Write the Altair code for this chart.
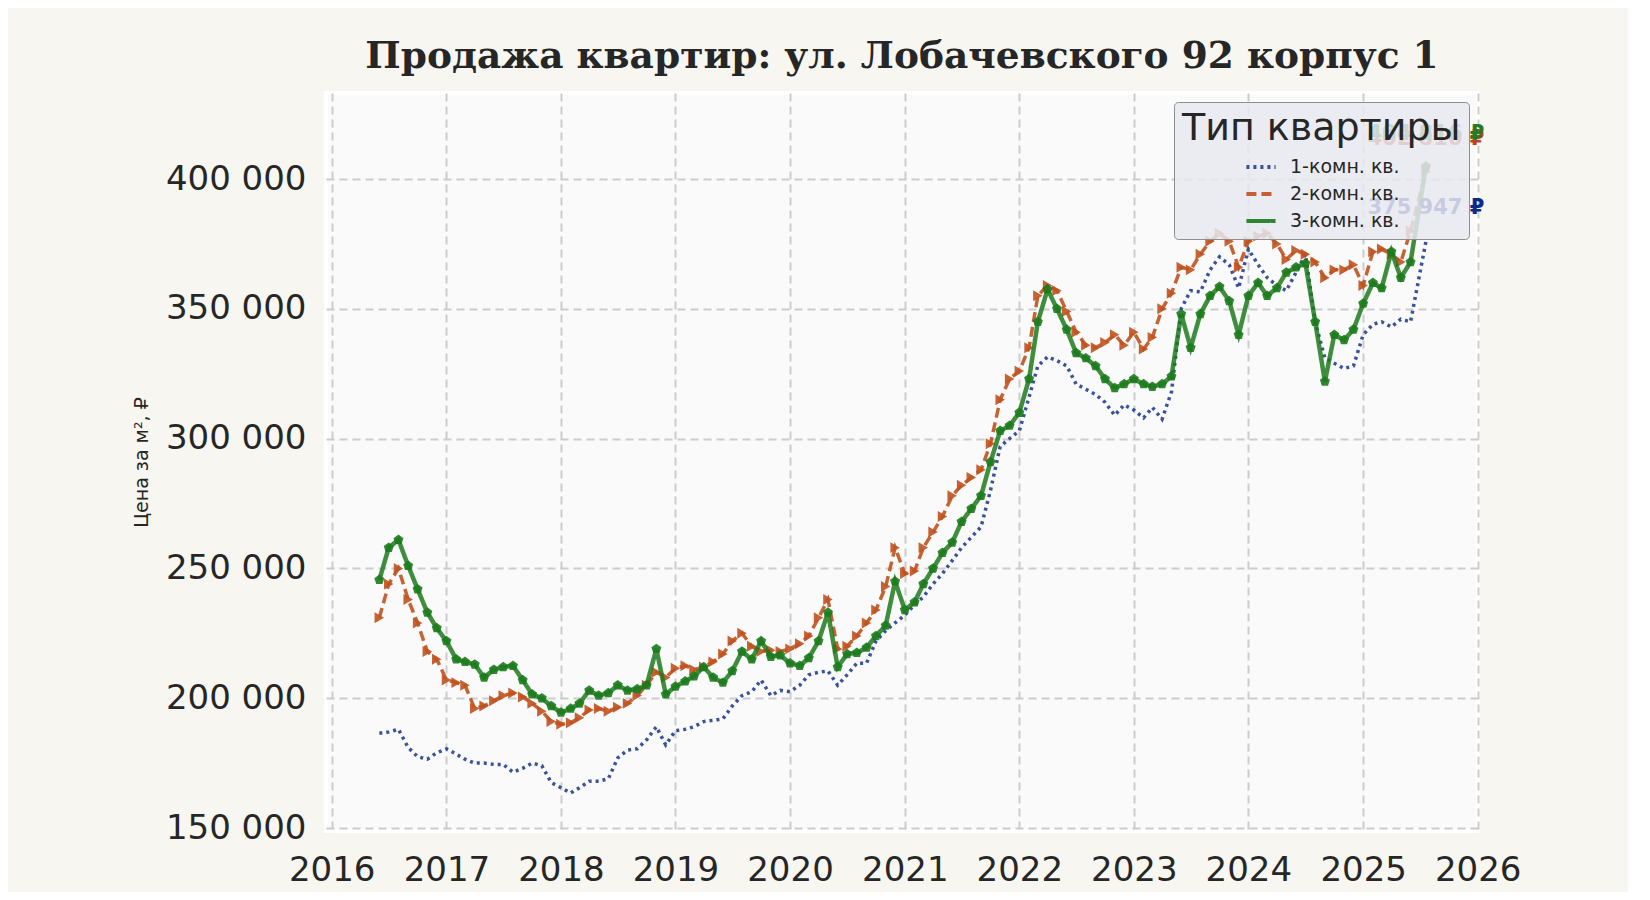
"""Sale prices per m2: ul. Lobachevskogo 92 k1 (Altair)."""

import altair as alt
import pandas as pd

alt.data_transformers.disable_max_rows()

# monthly readings, Jun 2016 .. Jun 2025, plus the last observation
dates = list(pd.date_range("2016-06-01", "2025-06-01", freq="MS").strftime("%Y-%m-%d")) + ["2025-07-20"]

series_names = ["1-комн. кв.", "2-комн. кв.", "3-комн. кв."]
line_colors = ["#243f8f", "#c0521f", "#1c7a1c"]
label_colors = ["#0b2a8a", "#b8461a", "#277a1f"]

one_room = [
    186500, 187000, 188000, 181000, 177500, 176500, 179000, 180500, 178500, 176500,
    175000, 175000, 174500, 174500, 171500, 173000, 175000, 174000, 167500, 165500,
    163500, 165500, 168000, 168000, 169000, 177000, 180000, 180500, 184000, 189000,
    182000, 187500, 188000, 189000, 191000, 191500, 192000, 197000, 201000, 202500,
    207000, 201000, 203000, 202500, 205000, 209000, 210000, 210500, 205000, 209000,
    213500, 213500, 222000, 226000, 229000, 232000, 236000, 239000, 244000, 248000,
    253000, 258000, 262000, 266000, 280000, 297000, 300000, 303000, 316000, 328000,
    331500, 330000, 328000, 321000, 319000, 317000, 314000, 309000, 313000, 311000,
    308000, 312000, 307500, 318000, 350000, 357000, 356500, 365000, 370000, 367000,
    358000, 373000, 367000, 362000, 359000, 357000, 364000, 371000, 345000, 331000,
    329000, 327000, 328000, 340000, 344000, 345000, 343000, 346000, 345000, 375947,
]
two_room = [
    231000, 244000, 250000, 238000, 229000, 218000, 215000, 207000, 206000, 205000,
    196000, 197000, 199000, 201000, 202000, 200500, 198000, 195000, 191000, 190000,
    190500, 192500, 195500, 196000, 195000, 196500, 198000, 201000, 205000, 210000,
    208000, 211500, 212500, 211000, 212000, 214000, 217000, 222000, 225000, 220000,
    218000, 218500, 218000, 219000, 221000, 224000, 231000, 238000, 219000, 220000,
    224000, 229000, 234000, 243000, 258000, 248000, 249000, 258000, 264000, 270000,
    278000, 282000, 285000, 288000, 298000, 315000, 323000, 326000, 335000, 355000,
    359000, 357000, 349000, 341000, 336000, 335000, 337000, 340000, 336000, 341000,
    334500, 339000, 350000, 356000, 366000, 365000, 371000, 376000, 379000, 376000,
    366000, 376000, 378000, 379000, 375000, 369000, 372500, 371000, 368000, 362000,
    365000, 365000, 367000, 359000, 372000, 373000, 371000, 368000, 380000, 402810,
]
three_room = [
    245600, 258000, 261000, 251000, 242000, 233000, 227000, 222000, 215000, 214000,
    213000, 208000, 211000, 212000, 212500, 207000, 201500, 200000, 197000, 194500,
    196000, 198000, 203000, 201000, 202000, 205000, 203000, 203500, 205000, 219000,
    201500, 204500, 206500, 208500, 212000, 208000, 206000, 210500, 218000, 215000,
    222000, 216000, 216500, 213500, 212500, 215500, 222000, 233000, 212000, 217000,
    217500, 219500, 224000, 228000, 245000, 234000, 237000, 244000, 250000, 256000,
    260000, 268000, 273000, 278000, 291000, 303000, 305000, 310000, 323000, 345000,
    357500, 350000, 342000, 333000, 331000, 328000, 323000, 319500, 321000, 323000,
    321000, 320000, 321000, 324000, 348000, 335000, 348000, 355000, 358500, 353000,
    340000, 355000, 360000, 355000, 358000, 364000, 366000, 367500, 345000, 322000,
    340000, 338000, 342000, 352000, 360000, 358000, 372000, 362000, 368000, 404816,
]

year_ticks = list(range(2016, 2027))
price_ticks = [150000, 200000, 250000, 300000, 350000, 400000]

PENTAGON = "M0,-1L0.951,-0.309L0.588,0.809L-0.588,0.809L-0.951,-0.309Z"

rows = []
for name, values in zip(series_names, [one_room, two_room, three_room]):
    for d, v in zip(dates, values):
        rows.append({"date": d, "series": name, "price": v})
df = pd.DataFrame(rows)

last = pd.DataFrame({
    "date": [dates[-1]] * 3,
    "series": series_names,
    "price": [one_room[-1], two_room[-1], three_room[-1]],
})
last["label"] = last["price"].map(lambda v: f"{v:,}".replace(",", " ") + " ₽")

x_enc = alt.X(
    "date:T",
    scale=alt.Scale(domain=[alt.DateTime(year=2015, month=12, date=14),
                            alt.DateTime(year=2026, month=1, date=2)]),
    axis=alt.Axis(values=[alt.DateTime(year=y, month=1, date=1) for y in year_ticks],
                  format="%Y", title="Дата", labelOverlap=False, labelFlush=False),
)
y_enc = alt.Y(
    "price:Q",
    scale=alt.Scale(domain=[148845, 433130], nice=False, zero=False),
    axis=alt.Axis(values=price_ticks, labelExpr="floor(datum.value / 1000) + ' 000'",
                  title="Цена за м², ₽"),
)

legend = alt.Legend(
    title="Тип квартиры", orient="top-right", offset=9, titleLimit=600,
    titleFont="DejaVu Sans", titleFontSize=38, titleFontWeight="normal", titleColor="#262626",
    titlePadding=2, labelFont="DejaVu Sans", labelFontSize=19, labelColor="#262626",
    labelOffset=12, symbolType="stroke", symbolSize=850, symbolStrokeWidth=4,
    symbolOffset=62, rowPadding=0, padding=8, cornerRadius=4,
    fillColor="rgba(232,232,240,0.85)", strokeColor="#8e8e8e",
)
color_enc = alt.Color("series:N", scale=alt.Scale(domain=series_names, range=line_colors), legend=legend)
dash_enc = alt.StrokeDash(
    "series:N",
    scale=alt.Scale(domain=series_names, range=[[3, 4], [10, 5], [1, 0]]),
    legend=legend,
)

base = alt.Chart(df)


def series_layer(name, **mark):
    return (
        base.transform_filter(alt.datum.series == name)
        .mark_line(**mark)
        .encode(x=x_enc, y=y_enc, color=color_enc, strokeDash=dash_enc)
    )


blue = series_layer(series_names[0], strokeWidth=3.5, opacity=0.9)
orange = series_layer(
    series_names[1], strokeWidth=3.5, opacity=0.9,
    point=alt.OverlayMarkDef(shape="triangle-right", size=120, filled=True, opacity=0.9),
)
green = series_layer(
    series_names[2], strokeWidth=4.5, opacity=0.85,
    point=alt.OverlayMarkDef(shape=PENTAGON, size=110, filled=True, opacity=0.9),
)

labels = alt.Chart(last).mark_text(
    dy=-33, fontSize=21, fontWeight="bold", font="DejaVu Sans", align="center"
).encode(
    x=x_enc, y=y_enc, text="label:N",
    fill=alt.Fill("series:N", scale=alt.Scale(domain=series_names, range=label_colors), legend=None),
)

chart = (
    alt.layer(blue, orange, green, labels)
    .properties(
        width=1152, height=738,
        padding={"left": 318, "top": 85, "right": 150, "bottom": 61},
        autosize=alt.AutoSizeParams(type="none"),
        title=alt.TitleParams("Продажа квартир: ул. Лобачевского 92 корпус 1", anchor="middle"),
    )
    .configure(background="#f7f6f1")
    .configure_view(fill="#fafafa", stroke="white", strokeWidth=4)
    .configure_axis(
        labelFont="DejaVu Sans", labelFontSize=34, labelColor="#262626",
        titleFont="DejaVu Sans", titleFontSize=19, titleFontWeight="normal", titleColor="#262626",
        gridColor="#cccccc", gridDash=[8, 5], gridWidth=2, domain=False, ticks=False,
        labelPadding=20,
    )
    .configure_axisY(titlePadding=14)
    .configure_axisX(titlePadding=6, labelPadding=22)
    .configure_title(font="DejaVu Serif", fontSize=37.5, fontWeight="bold", color="#262626", offset=18)
)

chart.save("out.html", embed_options={"renderer": "svg", "actions": False})
